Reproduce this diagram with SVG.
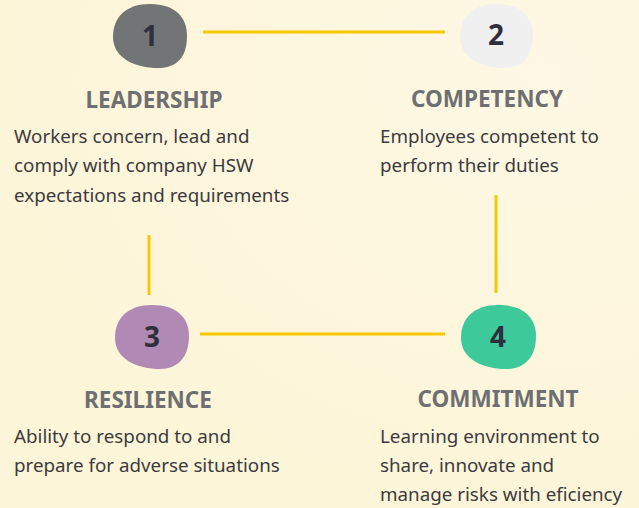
<svg xmlns="http://www.w3.org/2000/svg" width="639" height="508" viewBox="0 0 639 508">
<defs>
<radialGradient id="bg" cx="0.85" cy="0.15" r="0.9">
<stop offset="0" stop-color="#fef8e4"/>
<stop offset="1" stop-color="#fdf5d8"/>
</radialGradient>
<style>
.line{stroke:#f6c800;stroke-width:3;fill:none}
.num{font-family:"Noto Sans","Liberation Sans",sans-serif;font-weight:bold;font-size:28px;fill:#2e2e3c;text-anchor:middle}
.title{font-family:"Noto Sans","Liberation Sans",sans-serif;font-weight:bold;font-size:22.5px;fill:#6e6f72;text-anchor:middle}
.body{font-family:"Noto Sans","Liberation Sans",sans-serif;font-size:18.8px;fill:#3b3b3f}
</style>
</defs>
<rect width="639" height="508" fill="url(#bg)"/>
<g id="connectors">
<line class="line" x1="203" y1="32" x2="445" y2="32"/>
<line class="line" x1="149" y1="235" x2="149" y2="295"/>
<line class="line" x1="200" y1="334" x2="445" y2="334"/>
<line class="line" x1="496" y1="195" x2="496" y2="293"/>
</g>
<g id="node1">
<path d="M150,4 C176,4 187,18 187,36 C187,58 176,68 158,68 C135,68 113,58 113,37 C113,17 126,4 150,4 Z" fill="#737476"/>
<text class="num" x="150" y="46">1</text>
<text class="title" x="154" y="108">LEADERSHIP</text>
<text class="body" x="14" y="143">Workers concern, lead and</text>
<text class="body" x="14" y="172">comply with company HSW</text>
<text class="body" x="14" y="202">expectations and requirements</text>
</g>
<g id="node2">
<path d="M497,4 C522,4 533,18 533,35 C533,57 522,68 504,68 C481,68 460,58 460,37 C460,17 472,4 497,4 Z" fill="#f0f0f1"/>
<text class="num" x="496" y="45">2</text>
<text class="title" x="487" y="107">COMPETENCY</text>
<text class="body" x="380" y="143">Employees competent to</text>
<text class="body" x="380" y="172">perform their duties</text>
</g>
<g id="node3">
<path d="M152,305 C177,305 189,318 189,336 C189,358 177,369 160,369 C137,369 115,359 115,338 C115,318 128,305 152,305 Z" fill="#b08ab4"/>
<text class="num" x="152" y="347">3</text>
<text class="title" x="148" y="408">RESILIENCE</text>
<text class="body" x="14" y="443">Ability to respond to and</text>
<text class="body" x="14" y="472">prepare for adverse situations</text>
</g>
<g id="node4">
<path d="M498,305 C524,305 536,318 536,336 C536,358 524,369 506,369 C483,369 461,359 461,338 C461,318 474,305 498,305 Z" fill="#3ec99a"/>
<text class="num" x="498" y="347">4</text>
<text class="title" x="498" y="407">COMMITMENT</text>
<text class="body" x="380" y="443">Learning environment to</text>
<text class="body" x="380" y="472">share, innovate and</text>
<text class="body" x="380" y="501">manage risks with eficiency</text>
</g>
</svg>
